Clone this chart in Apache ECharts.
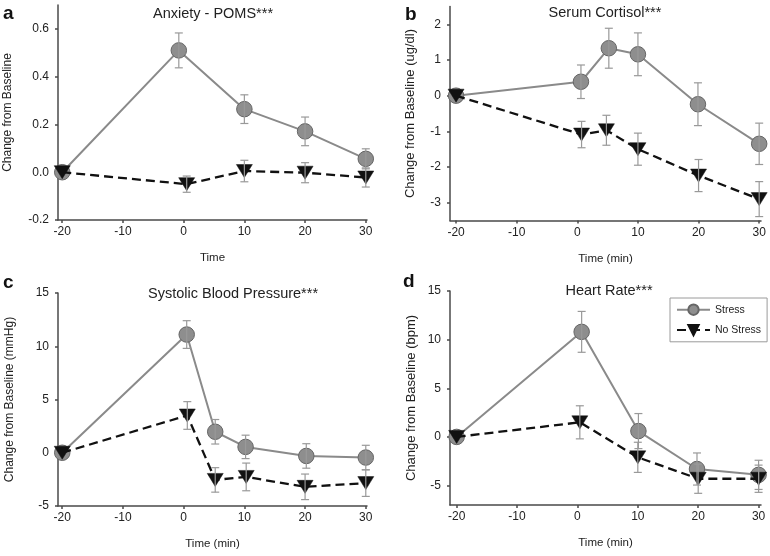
<!DOCTYPE html>
<html><head><meta charset="utf-8">
<script src="https://cdn.jsdelivr.net/npm/echarts@6/dist/echarts.min.js"></script>
<style>html,body{margin:0;padding:0;background:#fff}#c{width:770px;height:556px}</style>
</head><body><div id="c"></div>
<script>
// ---- data ----
const seriesNames = ['Stress', 'No Stress'];
const panelLetters = ['a', 'b', 'c', 'd'];
const panelTitles = ['Anxiety - POMS***', 'Serum Cortisol***', 'Systolic Blood Pressure***', 'Heart Rate***'];
const xAxisNames = ['Time', 'Time (min)', 'Time (min)', 'Time (min)'];
const yAxisNames = ['Change from Baseline', 'Change from Baseline (ug/dl)', 'Change from Baseline (mmHg)', 'Change from Baseline (bpm)'];
const xTickLabels = [-20, -10, 0, 10, 20, 30];
const yTicksA = [-0.2, 0.0, 0.2, 0.4, 0.6];
const yTicksB = [-3, -2, -1, 0, 1, 2];
const yTicksC = [-5, 0, 5, 10, 15];
const yTicksD = [-5, 0, 5, 10, 15];

// Panel a: Anxiety - POMS
const aStressX = [-20, -0.8, 10, 20, 30];
const aStressY = [0.0, 0.51, 0.264, 0.171, 0.056];
const aStressErr = [0, 0.073, 0.06, 0.06, 0.042];
const aNoStressX = [-20, 0.5, 10, 20, 30];
const aNoStressY = [0.0, -0.05, 0.005, -0.002, -0.022];
const aNoStressErr = [0, 0.034, 0.045, 0.042, 0.04];

// Panel b: Serum Cortisol
const bStressX = [-20, 0.6, 5.2, 10, 19.9, 30];
const bStressY = [0.0, 0.39, 1.33, 1.16, -0.24, -1.35];
const bStressErr = [0, 0.47, 0.56, 0.6, 0.6, 0.58];
const bNoStressX = [-20, 0.7, 4.8, 10, 20, 30];
const bNoStressY = [0.0, -1.09, -0.97, -1.5, -2.24, -2.9];
const bNoStressErr = [0, 0.37, 0.42, 0.45, 0.45, 0.49];

// Panel c: Systolic Blood Pressure
const cStressX = [-20, 0.5, 5.2, 10.2, 20.2, 30];
const cStressY = [0.0, 11.1, 1.97, 0.55, -0.3, -0.45];
const cStressErr = [0, 1.3, 1.15, 1.1, 1.15, 1.15];
const cNoStressX = [-20, 0.6, 5.2, 10.3, 20, 30];
const cNoStressY = [0.0, 3.5, -2.55, -2.27, -3.2, -2.85];
const cNoStressErr = [0, 1.3, 1.15, 1.3, 1.2, 1.25];

// Panel d: Heart Rate
const dStressX = [-20, 0.7, 10.1, 19.8, 30];
const dStressY = [0.0, 10.8, 0.6, -3.3, -3.9];
const dStressErr = [0, 2.1, 1.8, 1.65, 1.5];
const dNoStressX = [-20, 0.4, 10, 20, 30];
const dNoStressY = [0.0, 1.5, -2.1, -4.3, -4.3];
const dNoStressErr = [0, 1.7, 1.55, 1.5, 1.4];

// ---- layout ----
const FONT = 'Liberation Sans, Arial, Helvetica, sans-serif';
const panels = [
  {grid: {left: 58, top: 5, width: 309, height: 215}, xMin: -20.7, xMax: 30.2, yMin: -0.2, yMax: 0.7, yTicks: yTicksA, dec: 1,
   sX: aStressX, sY: aStressY, sE: aStressErr, nX: aNoStressX, nY: aNoStressY, nE: aNoStressErr,
   titleX: 213, titleTop: 6, letterX: 3, letterTop: 4, yNameGap: 44, xNameGap: 32, nameSize: 12},
  {grid: {left: 450, top: 6.5, width: 311, height: 214}, xMin: -21, xMax: 30.3, yMin: -3.5, yMax: 2.5, yTicks: yTicksB, dec: 0,
   sX: bStressX, sY: bStressY, sE: bStressErr, nX: bNoStressX, nY: bNoStressY, nE: bNoStressErr,
   titleX: 605, titleTop: 5, letterX: 405, letterTop: 5, yNameGap: 33, xNameGap: 32, nameSize: 13},
  {grid: {left: 58, top: 293, width: 309, height: 213}, xMin: -20.7, xMax: 30.2, yMin: -5, yMax: 15, yTicks: yTicksC, dec: 0,
   sX: cStressX, sY: cStressY, sE: cStressErr, nX: cNoStressX, nY: cNoStressY, nE: cNoStressErr,
   titleX: 233, titleTop: 286, letterX: 3, letterTop: 273, yNameGap: 42, xNameGap: 32, nameSize: 12},
  {grid: {left: 450, top: 291, width: 311, height: 214}, xMin: -21.1, xMax: 30.4, yMin: -7, yMax: 15, yTicks: yTicksD, dec: 0,
   sX: dStressX, sY: dStressY, sE: dStressErr, nX: dNoStressX, nY: dNoStressY, nE: dNoStressErr,
   titleX: 609, titleTop: 283, letterX: 403, letterTop: 272, yNameGap: 32, xNameGap: 32, nameSize: 13}
];

const axisLineStyle = {color: '#4a4a4a', width: 1.5};
const labelColor = '#222';

const option = {
  backgroundColor: '#fff',
  animation: false,
  title: [],
  grid: [],
  xAxis: [],
  yAxis: [],
  series: [],
  legend: {
    data: seriesNames,
    orient: 'vertical',
    left: 670, top: 298, width: 94, height: 45,
    padding: [5.5, 6, 5.5, 6],
    itemWidth: 33, itemHeight: 13, itemGap: 8,
    borderColor: '#9a9a9a', borderWidth: 1, borderRadius: 0,
    textStyle: {fontSize: 10.5, color: '#222', fontFamily: FONT},
    selectedMode: false
  }
};

function pairs(xs, ys) { return xs.map((x, i) => [x, ys[i]]); }
function triples(xs, ys, es) { return xs.map((x, i) => [x, ys[i], es[i]]); }

function errRender(params, api) {
  const x = api.value(0), y = api.value(1), e = api.value(2);
  if (!e) return null;
  const hi = api.coord([x, y + e]);
  const lo = api.coord([x, y - e]);
  const cap = 4;
  const st = {stroke: '#999', lineWidth: 1.2};
  return {type: 'group', children: [
    {type: 'line', shape: {x1: hi[0], y1: hi[1], x2: lo[0], y2: lo[1]}, style: st},
    {type: 'line', shape: {x1: hi[0] - cap, y1: hi[1], x2: hi[0] + cap, y2: hi[1]}, style: st},
    {type: 'line', shape: {x1: lo[0] - cap, y1: lo[1], x2: lo[0] + cap, y2: lo[1]}, style: st}
  ]};
}

panels.forEach((p, i) => {
  option.grid.push(Object.assign({containLabel: false}, p.grid));
  option.title.push({text: panelTitles[i], left: p.titleX, top: p.titleTop, textAlign: 'center', padding: 0,
    textStyle: {fontSize: 14.5, fontWeight: 'normal', color: '#222', fontFamily: FONT}});
  option.title.push({text: panelLetters[i], left: p.letterX, top: p.letterTop, padding: 0,
    textStyle: {fontSize: 19, fontWeight: 'bold', color: '#111', fontFamily: FONT}});
  option.xAxis.push({
    type: 'value', gridIndex: i, min: p.xMin, max: p.xMax,
    name: xAxisNames[i], nameLocation: 'middle', nameGap: p.xNameGap,
    nameTextStyle: {fontSize: 11.5, color: labelColor, fontFamily: FONT},
    axisLine: {show: true, onZero: false, lineStyle: axisLineStyle},
    axisTick: {show: true, inside: false, length: 3, lineStyle: axisLineStyle, customValues: xTickLabels},
    axisLabel: {color: labelColor, fontSize: 12, fontFamily: FONT, margin: 6, customValues: xTickLabels},
    splitLine: {show: false}
  });
  option.yAxis.push({
    type: 'value', gridIndex: i, min: p.yMin, max: p.yMax,
    name: yAxisNames[i], nameLocation: 'middle', nameGap: p.yNameGap,
    nameTextStyle: {fontSize: p.nameSize, color: labelColor, fontFamily: FONT},
    axisLine: {show: true, onZero: false, lineStyle: axisLineStyle},
    axisTick: {show: true, inside: false, length: 3, lineStyle: axisLineStyle, customValues: p.yTicks},
    axisLabel: {color: labelColor, fontSize: 12, fontFamily: FONT, margin: 9, customValues: p.yTicks,
      formatter: v => Number(v).toFixed(p.dec)},
    splitLine: {show: false}
  });
  option.series.push({
    name: seriesNames[0], type: 'line', xAxisIndex: i, yAxisIndex: i, z: 2,
    data: pairs(p.sX, p.sY),
    symbol: 'circle', symbolSize: 15.5,
    lineStyle: {color: '#8a8a8a', width: 2},
    itemStyle: {color: '#8e8e8e', borderColor: '#666', borderWidth: 1},
    emphasis: {disabled: true}
  });
  option.series.push({
    name: seriesNames[1], type: 'line', xAxisIndex: i, yAxisIndex: i, z: 3,
    data: pairs(p.nX, p.nY),
    symbol: 'triangle', symbolSize: [16, 13], symbolRotate: 180,
    lineStyle: {color: '#111', width: 2.3, type: [9, 5]},
    itemStyle: {color: '#111', borderColor: '#111', borderWidth: 0.5},
    emphasis: {disabled: true}
  });
  option.series.push({
    name: 'errS' + i, type: 'custom', xAxisIndex: i, yAxisIndex: i, z: 4,
    data: triples(p.sX, p.sY, p.sE), renderItem: errRender, silent: true
  });
  option.series.push({
    name: 'errN' + i, type: 'custom', xAxisIndex: i, yAxisIndex: i, z: 4,
    data: triples(p.nX, p.nY, p.nE), renderItem: errRender, silent: true
  });
});

const chart = echarts.init(document.getElementById('c'), null, {renderer: 'canvas'});
chart.setOption(option);
</script>
</body></html>
